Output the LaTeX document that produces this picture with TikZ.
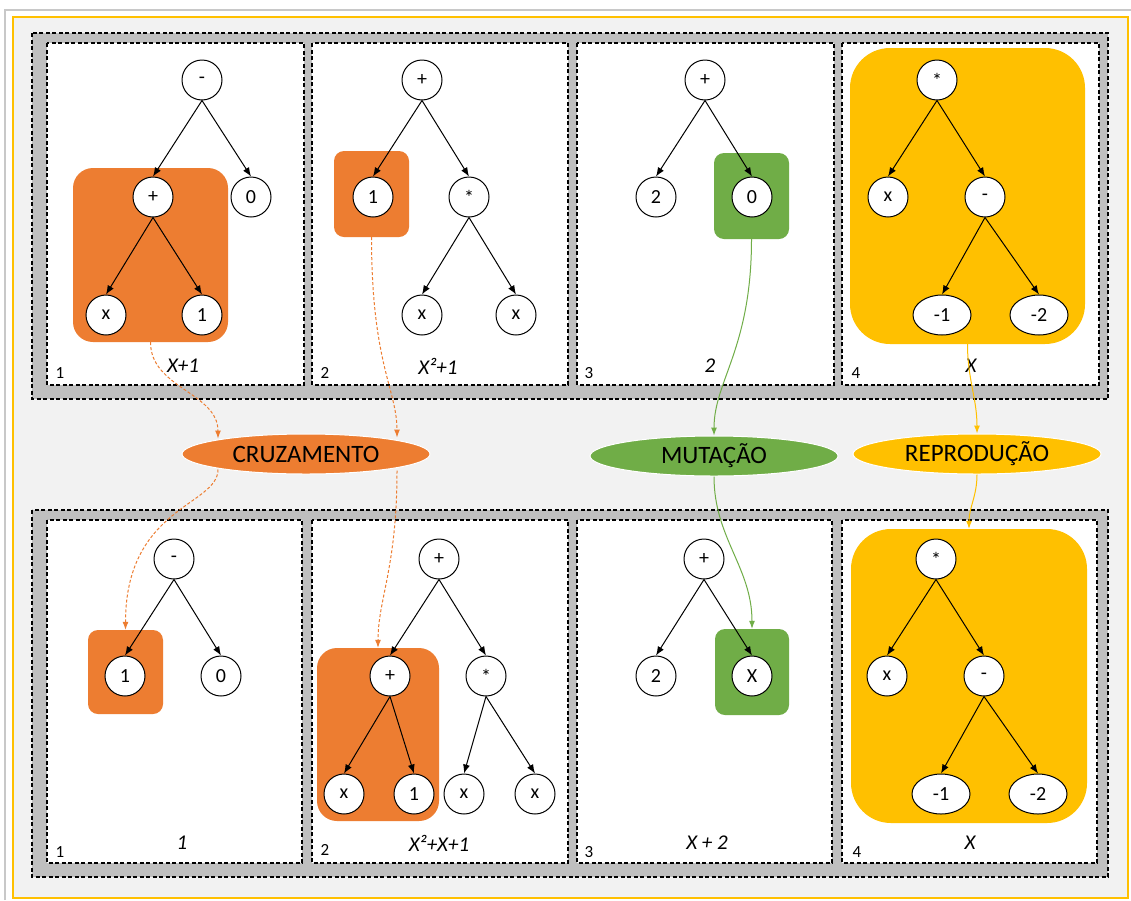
\documentclass[tikz,border=0pt]{standalone}
\usepackage{fontspec}
\setmainfont{Carlito}
\usetikzlibrary{arrows.meta,positioning,shapes.geometric}

\definecolor{laranja}{HTML}{ED7D31}
\definecolor{verde}{HTML}{70AD47}
\definecolor{ouro}{HTML}{FFC000}
\definecolor{faixacor}{HTML}{BFBFBF}
\definecolor{fundo}{HTML}{F2F2F2}
\definecolor{moldura}{HTML}{C8C8C8}

\begin{document}
\begin{tikzpicture}[x=1pt, y=-1pt, >={Latex[length=9pt,width=7pt]}, on grid,
    no/.style={circle, draw, line width=1pt, fill=white, minimum size=40pt, inner sep=0pt,
        font=\fontsize{20}{24}\selectfont},
    noel/.style={ellipse, draw, line width=1pt, fill=white, minimum width=58pt, minimum height=40pt,
        inner sep=0pt, font=\fontsize{20}{24}\selectfont},
    caixa/.style={rectangle, rounded corners=#1, inner sep=0pt},
    faixa/.style={draw, fill=faixacor, line width=1.2pt, dash pattern=on 4pt off 2.5pt},
    painel/.style={draw, fill=white, line width=1.2pt, dash pattern=on 4pt off 2.5pt},
    oper/.style={ellipse, draw=white, line width=1pt, minimum width=248pt, minimum height=40pt,
        inner sep=0pt, font=\fontsize{25}{30}\selectfont},
    rotulo/.style={font=\fontsize{21}{25}\selectfont\itshape},
    num/.style={font=\fontsize{17}{20}\selectfont},
    arco/.style={->, line width=1pt},
    liga/.style={-{Latex[length=8pt,width=6pt]}, line width=1pt},
    tracos/.style={dash pattern=on 3pt off 2pt}]

    \useasboundingbox (0,0) rectangle (1131,900);

    % Frame and bands
    \fill [white] (0,0) rectangle (1131,900);
    \draw [moldura, line width=1.5pt] (5,900) -- (5,10) -- (1131,10);
    \draw [ouro, line width=1.3pt, fill=fundo] (13,17) rectangle (1128,898);
    \draw [faixa] (32,33) rectangle (1108,399);
    \draw [faixa] (32,510) rectangle (1108,877);

    % Panels
    \draw [painel] (47,43) rectangle (304,385);
    \draw [painel] (312,43) rectangle (568,385);
    \draw [painel] (577,43) rectangle (834,385);
    \draw [painel] (842,43) rectangle (1099,385);
    \draw [painel] (47,520) rectangle (302,863);
    \draw [painel] (312,520) rectangle (568,863);
    \draw [painel] (577,520) rectangle (832,863);
    \draw [painel] (842,520) rectangle (1097,863);

    % Highlighted subtrees
    \node [caixa=20pt, fill=laranja, minimum width=155pt, minimum height=174pt] (ca) at (150.5,255) {};
    \node [caixa=10pt, fill=laranja, minimum width=75pt, minimum height=86pt]   (cb) at (371.5,194) {};
    \node [caixa=10pt, fill=verde, minimum width=75pt, minimum height=86pt]     (cc) at (751.5,196) {};
    \node [caixa=40pt, fill=ouro, minimum width=235pt, minimum height=296pt]    (cd) at (967.5,196) {};
    \node [caixa=10pt, fill=laranja, minimum width=75pt, minimum height=84pt]   (ce) at (125.5,672) {};
    \node [caixa=20pt, fill=laranja, minimum width=122pt, minimum height=173pt] (cf) at (378,734.5) {};
    \node [caixa=10pt, fill=verde, minimum width=74pt, minimum height=86pt]     (cg) at (752,672) {};
    \node [caixa=40pt, fill=ouro, minimum width=236pt, minimum height=294pt]    (ch) at (969,676) {};

    % Trees {a, b, c, d} before, {e, f, g, h} after
    \node [no]   (a1) at (202,80)                          {-};
    \node [no]   (a2) [below left=117pt and 49pt of a1]    {+};
    \node [no]   (a3) [below right=117pt and 49pt of a1]   {0};
    \node [no]   (a4) [below left=118pt and 47pt of a2]    {x};
    \node [no]   (a5) [below right=118pt and 49pt of a2]   {1};

    \node [no]   (b1) at (422,80)                          {+};
    \node [no]   (b2) [below left=117pt and 49pt of b1]    {1};
    \node [no]   (b3) [below right=117pt and 47pt of b1]   {*};
    \node [no]   (b4) [below left=118pt and 47pt of b3]    {x};
    \node [no]   (b5) [below right=118pt and 47pt of b3]   {x};

    \node [no]   (c1) at (705,80)                          {+};
    \node [no]   (c2) [below left=117pt and 49pt of c1]    {2};
    \node [no]   (c3) [below right=117pt and 47pt of c1]   {0};

    \node [no]   (d1) at (937,80)                          {*};
    \node [no]   (d2) [below left=117pt and 49pt of d1]    {x};
    \node [no]   (d3) [below right=117pt and 48pt of d1]   {-};
    \node [noel] (d4) [below left=118pt and 43pt of d3]    {-1};
    \node [noel] (d5) [below right=118pt and 54pt of d3]   {-2};

    \node [no]   (e1) at (174,559)                         {-};
    \node [no]   (e2) [below left=117pt and 49pt of e1]    {1};
    \node [no]   (e3) [below right=117pt and 47pt of e1]   {0};

    \node [no]   (f1) at (439,559)                         {+};
    \node [no]   (f2) [below left=117pt and 49pt of f1]    {+};
    \node [no]   (f3) [below right=117pt and 47pt of f1]   {*};
    \node [no]   (f4) [below left=118pt and 46pt of f2]    {x};
    \node [no]   (f5) [below right=118pt and 24pt of f2]   {1};
    \node [no]   (f6) [below left=118pt and 22pt of f3]    {x};
    \node [no]   (f7) [below right=118pt and 49pt of f3]   {x};

    \node [no]   (g1) at (704,559)                         {+};
    \node [no]   (g2) [below left=117pt and 48pt of g1]    {2};
    \node [no]   (g3) [below right=117pt and 48pt of g1]   {X};

    \node [no]   (h1) at (936,559)                         {*};
    \node [no]   (h2) [below left=117pt and 49pt of h1]    {x};
    \node [no]   (h3) [below right=117pt and 48pt of h1]   {-};
    \node [noel] (h4) [below left=118pt and 43pt of h3]    {-1};
    \node [noel] (h5) [below right=118pt and 54pt of h3]   {-2};

    % Tree edges
    \path [arco] (a1.south) edge (a2.north);
    \path [arco] (a1.south) edge (a3.north);
    \path [arco] (a2.south) edge (a4.north);
    \path [arco] (a2.south) edge (a5.north);
    \path [arco] (b1.south) edge (b2.north);
    \path [arco] (b1.south) edge (b3.north);
    \path [arco] (b3.south) edge (b4.north);
    \path [arco] (b3.south) edge (b5.north);
    \path [arco] (c1.south) edge (c2.north);
    \path [arco] (c1.south) edge (c3.north);
    \path [arco] (d1.south) edge (d2.north);
    \path [arco] (d1.south) edge (d3.north);
    \path [arco] (d3.south) edge (d4.north);
    \path [arco] (d3.south) edge (d5.north);
    \path [arco] (e1.south) edge (e2.north);
    \path [arco] (e1.south) edge (e3.north);
    \path [arco] (f1.south) edge (f2.north);
    \path [arco] (f1.south) edge (f3.north);
    \path [arco] (f2.south) edge (f4.north);
    \path [arco] (f2.south) edge (f5.north);
    \path [arco] (f3.south) edge (f6.north);
    \path [arco] (f3.south) edge (f7.north);
    \path [arco] (g1.south) edge (g2.north);
    \path [arco] (g1.south) edge (g3.north);
    \path [arco] (h1.south) edge (h2.north);
    \path [arco] (h1.south) edge (h3.north);
    \path [arco] (h3.south) edge (h4.north);
    \path [arco] (h3.south) edge (h5.north);

    % Expressions and panel numbers
    \node [rotulo] (xa) at (183,366) {X+1};
    \node [rotulo] (xb) at (438,366) {X²+1};
    \node [rotulo] (xc) at (710,366) {2};
    \node [rotulo] (xd) at (971,366) {X};
    \node [rotulo] (xe) at (182,843) {1};
    \node [rotulo] (xf) at (439,843) {X²+X+1};
    \node [rotulo] (xg) at (707,843) {X + 2};
    \node [rotulo] (xh) at (970,843) {X};

    \node [num] (na) at (60,373)  {1};
    \node [num] (nb) at (325,373) {2};
    \node [num] (nc) at (589,373) {3};
    \node [num] (nd) at (856,373) {4};
    \node [num] (ne) at (60,852)  {1};
    \node [num] (nf) at (325,850) {2};
    \node [num] (ng) at (589,852) {3};
    \node [num] (nh) at (857,852) {4};

    % Genetic operators
    \node [oper, fill=laranja] (cruz) at (306,454) {CRUZAMENTO};
    \node [oper, fill=verde]   (muta) at (714,456) {MUTAÇÃO};
    \node [oper, fill=ouro]    (repr) at (977,454) {REPRODUÇÃO};

    % Links
    \draw [liga, laranja, tracos] (ca.south) to [out=-90, in=90] ([xshift=-88pt,yshift=-5pt]cruz.north);
    \draw [liga, laranja, tracos] (cb.south) to [out=-90, in=90, out looseness=1.6, in looseness=0.6] ([xshift=91pt,yshift=-4pt]cruz.north);
    \draw [liga, laranja, tracos] ([xshift=-88pt,yshift=5pt]cruz.south) to [out=-90, in=90, out looseness=0.5, in looseness=1.7] (ce.north);
    \draw [liga, laranja, tracos] ([xshift=91pt,yshift=4pt]cruz.south) to [out=-90, in=90, out looseness=1.4, in looseness=0.7] (cf.north);
    \draw [liga, verde]  (cc.south) to [out=-90, in=90, out looseness=1.4, in looseness=0.7] (muta.north);
    \draw [liga, verde]  (muta.south) to [out=-90, in=90] (cg.north);
    \draw [liga, ouro]   (cd.south) to [out=-90, in=90] (repr.north);
    \draw [liga, ouro]   (repr.south) to [out=-90, in=90] (ch.north);

\end{tikzpicture}
\end{document}
